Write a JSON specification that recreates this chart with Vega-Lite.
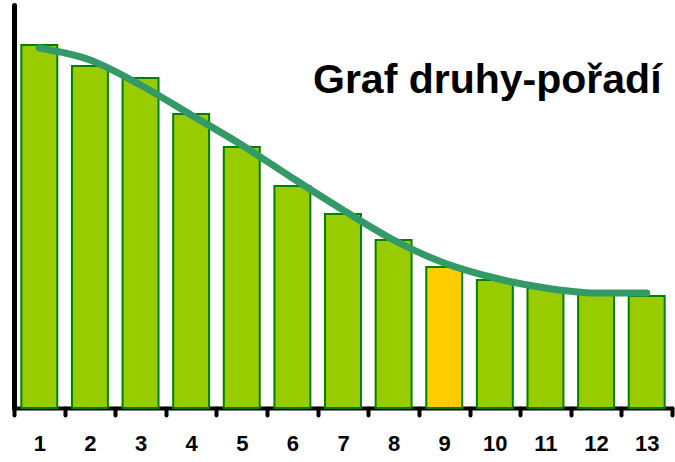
{
  "$schema": "https://vega.github.io/schema/vega-lite/v6.json",
  "autosize": "none",
  "width": 658,
  "height": 403,
  "padding": {"left": 14, "top": 5, "right": 3, "bottom": 54},
  "background": "white",
  "config": {"view": {"stroke": null}, "font": "Liberation Sans"},
  "datasets": {
    "bars": [
      {"rank": 1, "value": 363, "hl": "n"},
      {"rank": 2, "value": 342, "hl": "n"},
      {"rank": 3, "value": 330, "hl": "n"},
      {"rank": 4, "value": 294, "hl": "n"},
      {"rank": 5, "value": 261, "hl": "n"},
      {"rank": 6, "value": 222, "hl": "n"},
      {"rank": 7, "value": 194, "hl": "n"},
      {"rank": 8, "value": 168, "hl": "n"},
      {"rank": 9, "value": 141, "hl": "y"},
      {"rank": 10, "value": 128, "hl": "n"},
      {"rank": 11, "value": 120, "hl": "n"},
      {"rank": 12, "value": 115, "hl": "n"},
      {"rank": 13, "value": 112, "hl": "n"}
    ],
    "trend": [
      {"rank": 1, "fit": 360},
      {"rank": 2, "fit": 348},
      {"rank": 3, "fit": 323},
      {"rank": 4, "fit": 293},
      {"rank": 5, "fit": 263},
      {"rank": 6, "fit": 230},
      {"rank": 7, "fit": 198},
      {"rank": 8, "fit": 168},
      {"rank": 9, "fit": 145},
      {"rank": 10, "fit": 130},
      {"rank": 11, "fit": 120},
      {"rank": 12, "fit": 115},
      {"rank": 13, "fit": 115}
    ],
    "label": [{"text": "Graf druhy-pořadí", "rank": 7, "value": 315}]
  },
  "layer": [
    {
      "data": {"name": "bars"},
      "mark": {"type": "bar", "width": {"band": 0.71}, "stroke": "#008000", "strokeWidth": 2},
      "encoding": {
        "x": {
          "field": "rank", "type": "ordinal",
          "scale": {"paddingInner": 0, "paddingOuter": 0},
          "axis": {
            "title": null, "labelAngle": 0, "tickBand": "extent",
            "domainColor": "black", "domainWidth": 4, "domainCap": "round",
            "tickColor": "black", "tickWidth": 4, "tickSize": 7, "tickCap": "round",
            "labelFont": "Liberation Sans", "labelFontWeight": "bold", "labelFontSize": 22,
            "labelColor": "black", "labelPadding": 18
          }
        },
        "y": {
          "field": "value", "type": "quantitative",
          "scale": {"domain": [0, 403], "nice": false},
          "axis": {
            "title": null, "labels": false, "ticks": false, "grid": false,
            "domainColor": "black", "domainWidth": 5, "domainCap": "round"
          }
        },
        "color": {
          "field": "hl", "type": "nominal",
          "scale": {"domain": ["n", "y"], "range": ["#99CC00", "#FFCC00"]},
          "legend": null
        }
      }
    },
    {
      "data": {"name": "trend"},
      "mark": {"type": "line", "interpolate": "monotone", "color": "#339966", "strokeWidth": 7, "strokeCap": "round", "strokeJoin": "round"},
      "encoding": {
        "x": {"field": "rank", "type": "ordinal"},
        "y": {"field": "fit", "type": "quantitative"}
      }
    },
    {
      "data": {"name": "label"},
      "mark": {"type": "text", "align": "left", "baseline": "alphabetic", "dx": -30, "font": "Liberation Sans", "fontWeight": "bold", "fontSize": 41, "color": "black"},
      "encoding": {
        "x": {"field": "rank", "type": "ordinal"},
        "y": {"field": "value", "type": "quantitative"},
        "text": {"field": "text"}
      }
    }
  ]
}
